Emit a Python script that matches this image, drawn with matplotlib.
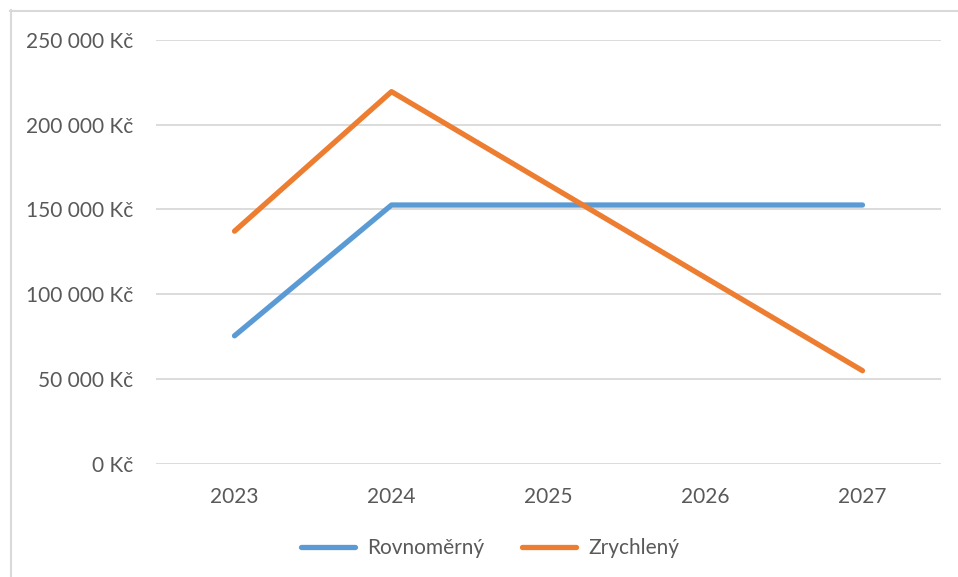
import numpy as np
import matplotlib.pyplot as plt
from matplotlib.lines import Line2D
from matplotlib.ticker import FuncFormatter

years = ['2023', '2024', '2025', '2026', '2027']
rovnomerny = [75460, 152635, 152635, 152635, 152635]
zrychleny = [137200, 219520, 164640, 109760, 54880]
series_names = ['Rovnoměrný', 'Zrychlený']

plt.rcParams['font.family'] = ['Lato', 'DejaVu Sans']
text_color = '#595959'
grid_color = '#D9D9D9'

W, H = 958, 577
fig = plt.figure(figsize=(W / 100, H / 100), dpi=100)
ax = fig.add_axes([156 / W, 1 - 463.7 / H, (941 - 156) / W, (463.7 - 40) / H])

x = np.arange(len(years))
ax.plot(x, rovnomerny, color='#5B9BD5', linewidth=3.8, solid_capstyle='round',
        solid_joinstyle='round', label=series_names[0])
ax.plot(x, zrychleny, color='#ED7D31', linewidth=3.8, solid_capstyle='round',
        solid_joinstyle='round', label=series_names[1])

ax.set_xlim(-0.5, len(years) - 0.5)
ax.set_ylim(0, 250000)
ax.set_yticks(np.arange(0, 250001, 50000))
ax.yaxis.set_major_formatter(FuncFormatter(lambda v, p: f'{int(v):,} Kč'.replace(',', ' ')))
ax.set_xticks(x)
ax.set_xticklabels(years)

ax.grid(axis='y', color=grid_color, linewidth=1.3)
ax.set_axisbelow(True)
for s in ax.spines.values():
    s.set_visible(False)
ax.tick_params(axis='both', length=0, labelsize=15, colors=text_color)
ax.tick_params(axis='y', pad=16.5)
ax.tick_params(axis='x', pad=17)

leg = fig.legend(loc='center', bbox_to_anchor=(490 / W, 1 - 548 / H), ncol=2,
                 frameon=False, fontsize=15, handlelength=2.6, handletextpad=0.6,
                 columnspacing=1.8)
for t in leg.get_texts():
    t.set_color(text_color)

# chart area border
fig.add_artist(Line2D([10 / W, 1.0], [1 - 10.5 / H] * 2, color=grid_color, linewidth=1.5,
                      transform=fig.transFigure))
fig.add_artist(Line2D([10.5 / W] * 2, [0, 1 - 10 / H], color=grid_color, linewidth=1.5,
                      transform=fig.transFigure))

fig.savefig('out.png', dpi=100, facecolor='white')
plt.close(fig)
